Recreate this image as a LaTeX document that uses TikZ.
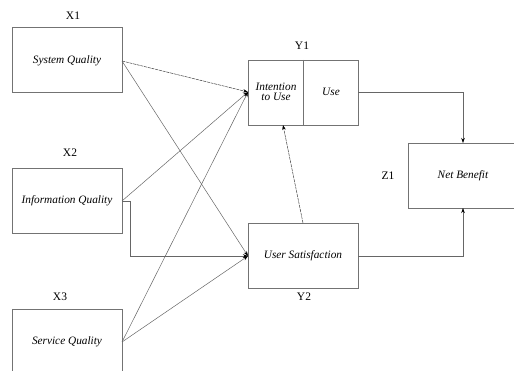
\documentclass[tikz,border=0pt]{standalone}
\usepackage{fontspec}
\setmainfont{Liberation Serif}
\usetikzlibrary{arrows.meta}
\begin{document}
\begin{tikzpicture}[x=1pt,y=-1pt,
  box/.style={draw=black!55,line width=0.6pt},
  lbl/.style={font=\fontsize{11.5}{13}\selectfont},
  itx/.style={font=\fontsize{11.3}{12}\selectfont\itshape,align=center},
  conn/.style={draw=black!60,line width=0.5pt,-{Stealth[length=5pt,width=3.5pt,black]}},
  dconn/.style={conn,draw=black!75,dash pattern=on 3pt off 0.8pt}]
\useasboundingbox (0,0) rectangle (514,371);
% boxes
\draw[box] (12,27) rectangle (122,92);
\draw[box] (12,168) rectangle (122,233);
\draw[box] (12,309) -- (122,309) -- (122,371);
\draw[box] (12,309) -- (12,371);
\draw[box] (248,60) rectangle (358,125);
\draw[box] (303,60) -- (303,125);
\draw[box] (248,223) rectangle (358,288);
\draw[box] (408,143) -- (514,143);
\draw[box] (408,143) -- (408,208) -- (514,208);
% texts
\node[itx] (sq) at (67,61) {System Quality};
\node[itx] (iq) at (67,201) {Information Quality};
\node[itx] (svq) at (67,342) {Service Quality};
\node[itx] (itu) at (276,92) {Intention\\[-2pt]to Use};
\node[itx] (use) at (331,92) {Use};
\node[itx] (us) at (303,256) {User Satisfaction};
\node[itx] (nb) at (463,176) {Net Benefit};
\node[lbl] (x1) at (73,16) {X1};
\node[lbl] (x2) at (70,153) {X2};
\node[lbl] (x3) at (60,297) {X3};
\node[lbl] (y1) at (302,46) {Y1};
\node[lbl] (y2) at (304,297) {Y2};
\node[lbl] (z1) at (388,176) {Z1};
% anchor coordinates
\coordinate (sqR) at (122,61);
\coordinate (iqR) at (122,201);
\coordinate (svR) at (122,342);
\coordinate (y1L) at (248,92);
\coordinate (y2L) at (248,256);
\coordinate (useR) at (358,92);
\coordinate (usR) at (358,256);
\coordinate (z1T) at (463,143);
\coordinate (z1B) at (463,208);
\coordinate (y2T) at (303,223);
\coordinate (y1B) at (283,125);
% connectors
\draw[dconn] (sqR) -- (y1L);
\draw[conn] (sqR) -- (y2L);
\draw[conn] (iqR) -- (y1L);
\draw[conn] (iqR) -- (130,201) -- (130,256) -- (y2L);
\draw[conn] (svR) -- (y1L);
\draw[conn] (svR) -- (y2L);
\draw[dconn] (y2T) -- (y1B);
\draw[conn] (useR) -| (z1T);
\draw[conn] (usR) -| (z1B);
\end{tikzpicture}
\end{document}
